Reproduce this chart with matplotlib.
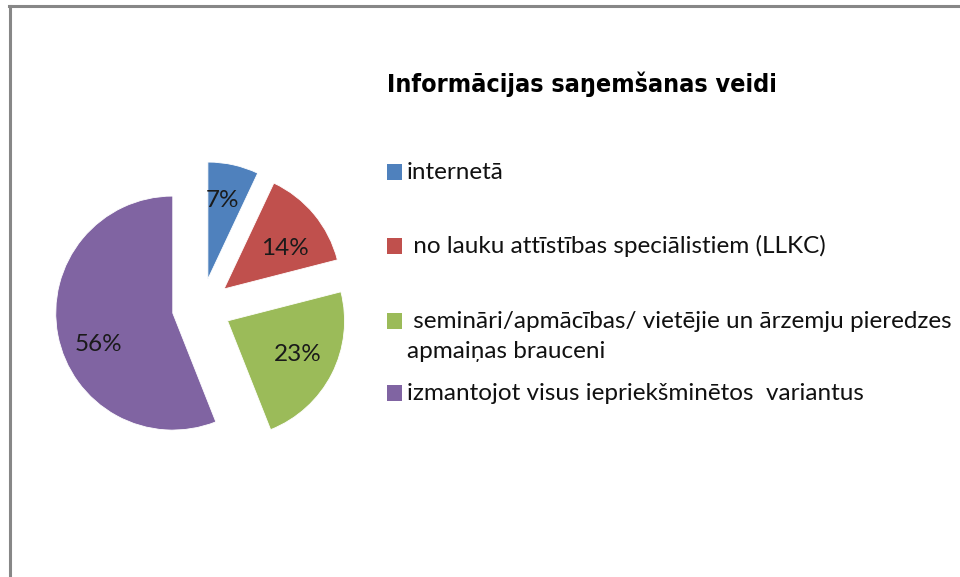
import matplotlib
matplotlib.use("Agg")
import matplotlib.pyplot as plt
from matplotlib.patches import Rectangle
from matplotlib.lines import Line2D
from matplotlib import font_manager as fm
from matplotlib.transforms import ScaledTranslation

# ---- data ----
categories = [
    "internetā",
    " no lauku attīstības speciālistiem (LLKC)",
    " semināri/apmācības/ vietējie un ārzemju pieredzes\napmaiņas brauceni",
    "izmantojot visus iepriekšminētos  variantus",
]
values = [7, 14, 23, 56]
colors = ["#4F81BD", "#C0504D", "#9BBB59", "#8064A2"]
title = "Informācijas saŋemšanas veidi"

W, H = 960, 577
fig = plt.figure(figsize=(W / 100, H / 100), dpi=100)
fig.patch.set_facecolor("white")

available = {f.name for f in fm.fontManager.ttflist}
body_font = "Lato" if "Lato" in available else "DejaVu Sans"
if "Liberation Sans Narrow" in available:
    title_kw = dict(family="Liberation Sans Narrow")
else:
    title_kw = dict(family="DejaVu Sans", fontstretch="condensed")

def fx(px):
    return px / W

def fy(py):
    return 1 - py / H

# frame (left and top edges of the chart area)
fig.add_artist(Line2D([fx(9.5), fx(9.5)], [fy(6), fy(H + 5)], transform=fig.transFigure,
                      color="#878787", lw=2.2))
fig.add_artist(Line2D([fx(8.5), fx(W + 5)], [fy(6), fy(6)], transform=fig.transFigure,
                      color="#878787", lw=2.2))

# pie axes: center (201.5, 307.6) px, radius 117 px
cx, cy, R = 201.5, 307.6, 117.0
half = 1.6 * R
ax = fig.add_axes([fx(cx - half), fy(cy + half), 2 * half / W, 2 * half / H])

wedges, texts, autotexts = ax.pie(
    values,
    colors=colors,
    startangle=90,
    counterclock=False,
    explode=[0.25] * len(values),
    autopct=lambda p: f"{p:.0f}%",
    pctdistance=0.68,
    radius=1.0,
    wedgeprops=dict(linewidth=0.6, edgecolor="white"),
    textprops=dict(fontsize=17.5, color="#1a1a1a", family=body_font),
)
ax.set_xlim(-1.6, 1.6)
ax.set_ylim(-1.6, 1.6)
ax.axis("off")

# small label nudges (pixels) to mimic the original label placement
nudges = [(-3, -1), (0, 10), (-1, -2), (4, 17)]
for t, (dx, dy) in zip(autotexts, nudges):
    t.set_transform(t.get_transform() + ScaledTranslation(dx / 100, -dy / 100, fig.dpi_scale_trans))

# title
fig.text(fx(582), fy(84), title, ha="center", va="center", fontsize=18,
         fontweight="bold", color="black", **title_kw)

# legend (manual layout)
baselines = [[179], [253], [328, 358], [400]]
sq = 15
for w, lab, bl in zip(wedges, categories, baselines):
    b0 = bl[0]
    fig.add_artist(Rectangle((fx(387), fy(b0 + 0.5)), sq / W, (sq + 1) / H,
                             transform=fig.transFigure, facecolor=w.get_facecolor(),
                             edgecolor="none"))
    lines = lab.split("\n")
    for line, b in zip(lines, bl):
        fig.text(fx(407), fy(b), line, ha="left", va="baseline", fontsize=17.5,
                 family=body_font, color="#111111")

fig.savefig("out.png", dpi=100, facecolor="white")
